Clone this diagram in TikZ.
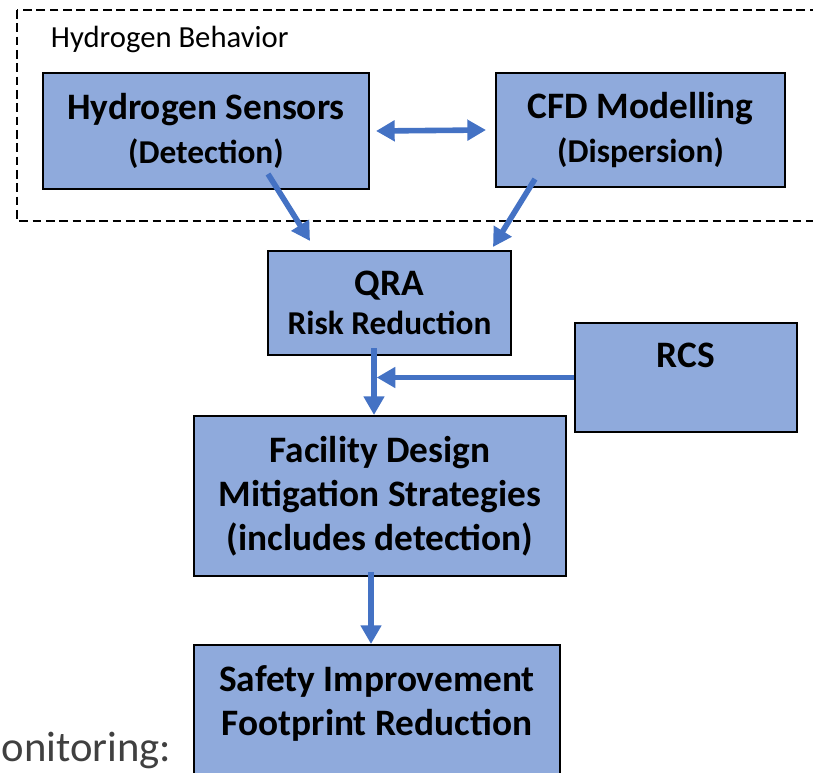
\documentclass[tikz,border=0pt]{standalone}
\usepackage{fontspec}
\setmainfont{Carlito}
\usepackage{xcolor}
\usetikzlibrary{positioning, arrows.meta, calc}

\definecolor{boxblue}{HTML}{8FAADC}
\definecolor{arrowblue}{HTML}{4472C4}
\definecolor{textgray}{HTML}{404040}

\tikzset{
    blockbox/.style={draw=black, line width=1.5pt, fill=boxblue, align=center,
        inner sep=0pt, font=\bfseries\fontsize{28}{33}\selectfont},
    flowarrow/.style={draw=arrowblue, line width=4.2pt,
        -{Triangle[length=14pt, width=15pt]}},
}

\newcommand{\smallline}[1]{{\fontsize{25}{33}\selectfont #1}}

\begin{document}
\begin{tikzpicture}[%
    x=0.75pt,           % one unit = one pixel of the reference
    y=-0.75pt,          % y grows downwards
    >=Triangle,         % arrow tips
    thick               % line thickness
]
    \useasboundingbox (0,0) rectangle (813,773);
    \clip (0,0) rectangle (813,773);

    % ==========================================
    % 1. Group frame - dashed border and title
    % ==========================================
    \draw[black, line width=2pt, dash pattern=on 6.5pt off 3.5pt]
        (17,10) rectangle (840,221);
    \node[anchor=west, font=\fontsize{23}{27}\selectfont] (grouptitle) at (46,39) {Hydrogen Behavior};

    % ==========================================
    % 2. Blocks (Nodes) - positions
    % ==========================================
    \node[blockbox, minimum width=244.5pt, minimum height=87pt] (hs) at (206,131)
        {Hydrogen Sensors\\ \smallline{(Detection)}};
    \node[blockbox, minimum width=216.75pt, minimum height=85.5pt] (cfd) at (640.5,130)
        {CFD Modelling\\ \smallline{(Dispersion)}};
    \node[blockbox, minimum width=182.25pt, minimum height=78pt] (qra) at (389.5,303)
        {QRA\\[-4pt] \smallline{Risk Reduction}};
    \node[blockbox, minimum width=166.5pt, minimum height=81.75pt] (rcs) at (686,377.5)
        {RCS\\[-10pt] \strut};
    \node[blockbox, minimum width=279pt, minimum height=120pt] (fac) at (380,496)
        {Facility Design\\ Mitigation Strategies\\ (includes detection)};
    \node[blockbox, minimum width=274.5pt, minimum height=120pt] (saf) at (377,725)
        {Safety Improvement\\ Footprint Reduction\\[-6pt] \strut};

    % side text at the left edge
    \node[anchor=base west, inner sep=0pt, text=textgray, font=\fontsize{32}{36}\selectfont]
        (monitor) at (1,761) {onitoring:};

    % ==========================================
    % 3. Connectors (Edges)
    % ==========================================
    \coordinate (qraout) at ($(qra.south)+(-15.5,-8)$);

    % sensors <-> modelling
    \draw[draw=arrowblue, line width=4.2pt,
          {Triangle[length=14pt, width=15pt]}-{Triangle[length=14pt, width=15pt]}]
        ($(hs.east)+(6,0)$) -- ($(cfd.west)+(-9,0)$);
    % both feed the QRA
    \draw[flowarrow] ($(hs.south)+(62,-16)$) -- ($(qra.north)+(-79.5,-9)$);
    \draw[flowarrow] ($(cfd.south)+(-105.5,-9)$) -- ($(qra.north)+(103.5,-3)$);
    % QRA down to facility design
    \draw[flowarrow] (qraout) -- (fac.north -| qraout);
    % RCS joins the vertical line
    \draw[flowarrow, shorten >=2pt] (rcs.west) -- (rcs.west -| qraout);
    % facility design down to safety
    \draw[flowarrow] ($(fac.south)+(-9,-5)$) -- ($(saf.north)+(-6,0)$);

\end{tikzpicture}
\end{document}
